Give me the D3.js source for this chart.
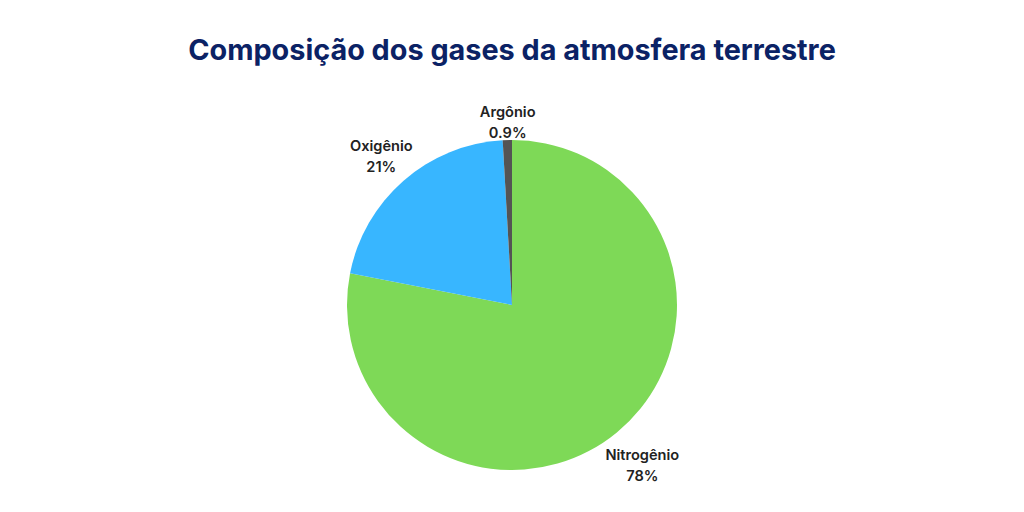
<!DOCTYPE html>
<html>
<head>
<meta charset="utf-8">
<script src="https://cdn.jsdelivr.net/npm/d3@7"></script>
<style>
  body { margin: 0; background: #fff; }
  svg { display: block; font-family: "Inter", "Noto Sans", sans-serif; }
</style>
</head>
<body>
<svg id="chart"></svg>
<script>
var gases = ["Nitrogênio", "Oxigênio", "Argônio"];
var percents = [78, 21, 0.9];
var percentLabels = ["78%", "21%", "0.9%"];
var sliceColors = ["#7ed957", "#38b6ff", "#545454"];

var svgWidth = 1024,
    svgHeight = 512,
    cx = 512,
    cy = 305,
    radius = 165;

var svg = d3.select("#chart")
    .attr("width", svgWidth)
    .attr("height", svgHeight)
    .attr("viewBox", "0 0 " + svgWidth + " " + svgHeight);

svg.append("text")
    .attr("x", svgWidth / 2)
    .attr("y", 60)
    .attr("text-anchor", "middle")
    .attr("fill", "#0b2265")
    .attr("font-size", "28.8px")
    .attr("font-weight", 700)
    .text("Composição dos gases da atmosfera terrestre");

var color = d3.scaleOrdinal().domain(gases).range(sliceColors);

var pie = d3.pie()
    .sort(null)
    .value(function (d, i) { return percents[i]; });

var arcs = pie(gases);

var arc = d3.arc().innerRadius(0).outerRadius(radius);

var g = svg.append("g").attr("transform", "translate(" + cx + "," + cy + ")");

g.selectAll("path")
    .data(arcs)
    .enter().append("path")
    .attr("d", arc)
    .attr("fill", function (d) { return color(d.data); });

// labels: two lines, pushed out so the text box sits just outside the pie
var labels = g.selectAll("g.label")
    .data(arcs)
    .enter().append("g")
    .attr("class", "label");

labels.each(function (d, i) {
    var lg = d3.select(this);
    var t = lg.append("text")
        .attr("text-anchor", "middle")
        .attr("fill", "#222")
        .attr("font-size", "14.6px")
        .attr("font-weight", 600);
    t.append("tspan").attr("x", 0).attr("y", -5).text(d.data);
    t.append("tspan").attr("x", 0).attr("y", 16).text(percentLabels[i]);

    var box = t.node().getBBox();
    var mid = (d.startAngle + d.endAngle) / 2;
    var sx = Math.sin(mid), sy = -Math.cos(mid);
    var extent = Math.abs(sx) * box.width / 2 + Math.abs(sy) * box.height / 2;
    var r = radius + extent;
    var ox = box.x + box.width / 2, oy = box.y + box.height / 2;
    lg.attr("transform", "translate(" + (sx * r - ox + 1) + "," + (sy * r - oy + 3) + ")");
});
</script>
</body>
</html>
